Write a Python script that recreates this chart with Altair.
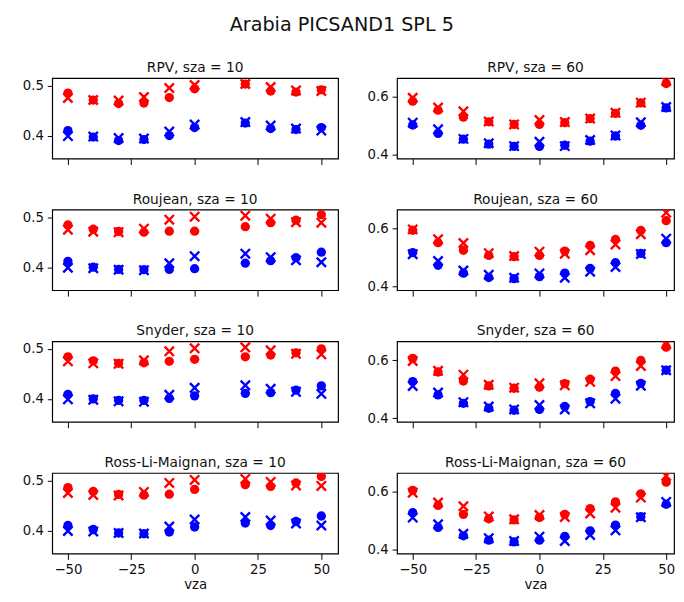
import altair as alt
import pandas as pd

# ---- data ----
vza_10 = [-50, -40, -30, -20, -10, 0, 20, 30, 40, 50]
vza_60 = [-50, -40, -30, -20, -10, 0, 10, 20, 30, 40, 50]

obs_red_10 = [0.475, 0.471, 0.470, 0.477, 0.495, 0.501, 0.503, 0.497, 0.490, 0.489]
obs_blue_10 = [0.399, 0.398, 0.395, 0.394, 0.408, 0.422, 0.427, 0.420, 0.414, 0.410]
obs_red_60 = [0.597, 0.563, 0.550, 0.515, 0.505, 0.520, 0.513, 0.525, 0.545, 0.580, 0.655]
obs_blue_60 = [0.511, 0.488, 0.455, 0.440, 0.430, 0.445, 0.430, 0.451, 0.467, 0.512, 0.565]

rpv_red_10 = [0.485, 0.471, 0.464, 0.465, 0.476, 0.4935, 0.503, 0.489, 0.487, 0.4915]
rpv_blue_10 = [0.410, 0.397, 0.390, 0.392, 0.400, 0.416, 0.425, 0.414, 0.412, 0.416]
rpv_red_60 = [0.585, 0.554, 0.530, 0.514, 0.505, 0.505, 0.511, 0.525, 0.543, 0.579, 0.646]
rpv_blue_60 = [0.503, 0.474, 0.454, 0.437, 0.429, 0.429, 0.433, 0.447, 0.465, 0.502, 0.562]

rou_red_10 = [0.4845, 0.476, 0.4716, 0.470, 0.472, 0.472, 0.481, 0.489, 0.494, 0.505]
rou_blue_10 = [0.4116, 0.400, 0.3955, 0.395, 0.3955, 0.397, 0.408, 0.413, 0.419, 0.430]
rou_red_60 = [0.594, 0.551, 0.525, 0.507, 0.503, 0.507, 0.522, 0.542, 0.562, 0.593, 0.627]
rou_blue_60 = [0.517, 0.473, 0.446, 0.431, 0.427, 0.434, 0.446, 0.462, 0.482, 0.514, 0.551]

sny_red_10 = [0.484, 0.476, 0.471, 0.472, 0.475, 0.479, 0.484, 0.4875, 0.492, 0.500]
sny_blue_10 = [0.409, 0.400, 0.397, 0.397, 0.401, 0.406, 0.411, 0.4125, 0.4175, 0.426]
sny_red_60 = [0.606, 0.559, 0.528, 0.511, 0.503, 0.507, 0.519, 0.534, 0.562, 0.599, 0.645]
sny_blue_60 = [0.526, 0.480, 0.451, 0.434, 0.427, 0.430, 0.440, 0.457, 0.485, 0.520, 0.565]

rlm_red_10 = [0.4856, 0.478, 0.472, 0.4706, 0.4725, 0.482, 0.4915, 0.488, 0.495, 0.508]
rlm_blue_10 = [0.410, 0.402, 0.395, 0.3935, 0.397, 0.407, 0.415, 0.410, 0.418, 0.429]
rlm_red_60 = [0.605, 0.553, 0.522, 0.507, 0.503, 0.511, 0.522, 0.542, 0.565, 0.593, 0.633]
rlm_blue_60 = [0.528, 0.477, 0.448, 0.433, 0.427, 0.433, 0.446, 0.465, 0.485, 0.514, 0.557]

models = ["RPV", "Roujean", "Snyder", "Ross-Li-Maignan"]
fits = {
    "RPV": (rpv_red_10, rpv_blue_10, rpv_red_60, rpv_blue_60),
    "Roujean": (rou_red_10, rou_blue_10, rou_red_60, rou_blue_60),
    "Snyder": (sny_red_10, sny_blue_10, sny_red_60, sny_blue_60),
    "Ross-Li-Maignan": (rlm_red_10, rlm_blue_10, rlm_red_60, rlm_blue_60),
}

FONT = "DejaVu Sans"
XMARK = "M-1,-1L1,1M-1,1L1,-1"
color_scale = alt.Scale(domain=["red", "blue"], range=["#ff0000", "#0000ff"])


def panel(model, sza, fit_red, fit_blue, obs_red, obs_blue, vza, bottom):
    rows = []
    for v, fr, fb, orr, ob in zip(vza, fit_red, fit_blue, obs_red, obs_blue):
        rows.append({"vza": v, "val": fr, "band": "red", "kind": "fit"})
        rows.append({"vza": v, "val": fb, "band": "blue", "kind": "fit"})
        rows.append({"vza": v, "val": orr, "band": "red", "kind": "obs"})
        rows.append({"vza": v, "val": ob, "band": "blue", "kind": "obs"})
    df = pd.DataFrame(rows)
    if sza == 10:
        ydom = [0.354, 0.515]
        yvals = [0.4, 0.5]
        xdom = [-56.2, 56.6]
        w = 291
    else:
        ydom = [0.387, 0.665]
        yvals = [0.4, 0.6]
        xdom = [-56.2, 53.1]
        w = 282
    xaxis = alt.Axis(
        values=[-50, -25, 0, 25, 50],
        labels=bottom,
        title="vza" if bottom else None,
        domain=False, grid=False, tickColor="black", tickSize=6,
        labelFont=FONT, labelFontSize=13.5, labelColor="#111",
        titleFont=FONT, titleFontSize=13.5, titleFontWeight="normal", titleColor="#111",
        titlePadding=2, labelPadding=3,
    )
    yaxis = alt.Axis(
        values=yvals, format=".1f", title=None,
        domain=False, grid=False, tickColor="black", tickSize=5,
        labelFont=FONT, labelFontSize=13.5, labelColor="#111", labelPadding=4,
        minExtent=44,
    )
    x = alt.X("vza:Q", scale=alt.Scale(domain=xdom, nice=False, zero=False), axis=xaxis)
    y = alt.Y("val:Q", scale=alt.Scale(domain=ydom, nice=False, zero=False), axis=yaxis)
    col = alt.Color("band:N", scale=color_scale, legend=None)
    base = alt.Chart(df)
    circles = base.transform_filter(alt.datum.kind == "fit").mark_point(
        shape="circle", filled=True, size=90, opacity=1, clip=True
    ).encode(x=x, y=y, color=col)
    crosses = base.transform_filter(alt.datum.kind == "obs").mark_point(
        shape=XMARK, filled=False, size=90, strokeWidth=2.4, opacity=1, clip=True
    ).encode(x=x, y=y, color=col)
    return alt.layer(circles, crosses).properties(
        width=w, height=82,
        title=alt.TitleParams(
            f"{model}, sza = {sza}", font=FONT, fontSize=14, fontWeight="normal",
            color="#111", offset=3, anchor="middle",
        ),
    )


rows = []
for i, m in enumerate(models):
    r10, b10, r60, b60 = fits[m]
    bottom = i == len(models) - 1
    left = panel(m, 10, r10, b10, obs_red_10, obs_blue_10, vza_10, bottom)
    right = panel(m, 60, r60, b60, obs_red_60, obs_blue_60, vza_60, bottom)
    rows.append(alt.hconcat(left, right, spacing=14))

chart = alt.vconcat(*rows, spacing=26).properties(
    title=alt.TitleParams(
        "Arabia PICSAND1 SPL 5", font=FONT, fontSize=19.5, fontWeight="normal",
        color="#111", anchor="middle", offset=26,
    ),
    padding={"left": 0, "right": 0, "top": 1, "bottom": 0},
).configure_view(stroke="black", strokeWidth=1.2).configure_concat(spacing=14)

chart.save("out.html", embed_options={"renderer": "svg", "actions": False})
